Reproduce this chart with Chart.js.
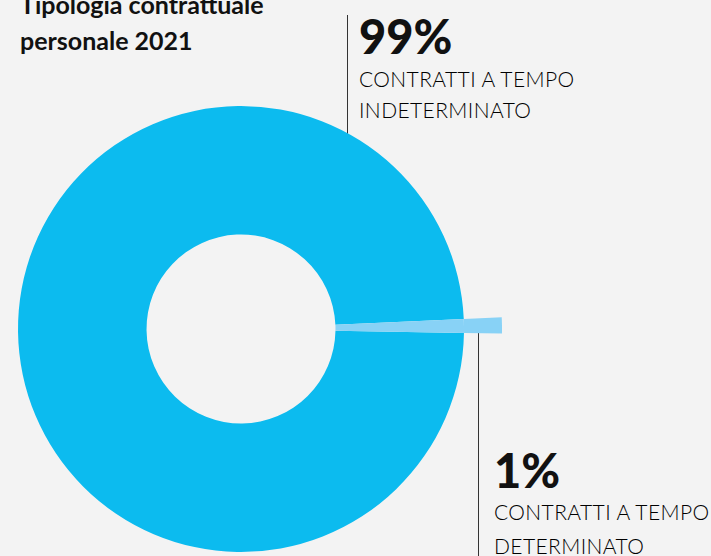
<!DOCTYPE html>
<html>
<head>
<meta charset="utf-8">
<script src="https://cdn.jsdelivr.net/npm/chart.js@4"></script>
<style>
    body {
        margin: 0;
        width: 711px;
        height: 556px;
        overflow: hidden;
        background: #f3f3f3;
        position: relative;
        font-family: 'Lato', sans-serif;
        color: #111;
    }
    #chartBox {
        position: absolute;
        left: -20px;
        top: 68px;
        width: 522px;
        height: 522px;
    }
    .title {
        position: absolute;
        left: 20px;
        top: -14px;
        font-size: 25px;
        font-weight: 700;
        line-height: 36px;
    }
    .label {
        position: absolute;
    }
    .label .pct {
        font-size: 47px;
        font-weight: 900;
        line-height: 46px;
    }
    .label .desc {
        font-size: 21px;
        font-weight: 300;
        color: #000;
        letter-spacing: 0.4px;
    }
    .leader {
        position: absolute;
        width: 1px;
        background: #333;
    }
    .dot {
        position: absolute;
        width: 4px;
        height: 4px;
        background: #222;
    }
</style>
</head>
<body>
<div class="title">Tipologia contrattuale<br>personale 2021</div>

<div class="leader" style="left:347px; top:15px; height:181px;"></div>
<div class="dot" style="left:345px; top:193px;"></div>
<div class="label" style="left:359px; top:13px;">
    <div class="pct" id="pct0"></div>
    <div class="desc" id="desc0" style="margin-top:4px; line-height:31px;"></div>
</div>

<div class="leader" style="left:478px; top:321px; height:240px;"></div>
<div class="dot" style="left:476px; top:319px;"></div>
<div class="label" style="left:494px; top:447px;">
    <div class="pct" id="pct1"></div>
    <div class="desc" id="desc1" style="margin-top:2px; line-height:34px;"></div>
</div>

<div id="chartBox"><canvas id="donut"></canvas></div>

<script>
// Data
const categories = ['CONTRATTI A TEMPO<br>INDETERMINATO', 'CONTRATTI A TEMPO<br>DETERMINATO'];
const shares = [99, 1];

const mainBlue = '#0cbbef';
const lightBlue = '#88d2f6';

// Labels
shares.forEach((v, i) => {
    document.getElementById('pct' + i).textContent = v + '%';
    document.getElementById('desc' + i).innerHTML = categories[i];
});

// Doughnut: outer ring only shows the small slice sticking out
const ctx = document.getElementById('donut').getContext('2d');
new Chart(ctx, {
    type: 'doughnut',
    data: {
        labels: categories,
        datasets: [{
            data: shares,
            backgroundColor: ['rgba(0,0,0,0)', lightBlue],
            borderWidth: 0,
            weight: 38
        }, {
            data: shares,
            backgroundColor: [mainBlue, lightBlue],
            borderWidth: 0,
            weight: 128.5
        }]
    },
    options: {
        responsive: true,
        maintainAspectRatio: false,
        animation: false,
        cutout: '36.2%',
        rotation: 91,
        hoverOffset: 0,
        layout: { padding: 0 },
        plugins: {
            legend: { display: false },
            tooltip: { enabled: false }
        }
    }
});
</script>
</body>
</html>
